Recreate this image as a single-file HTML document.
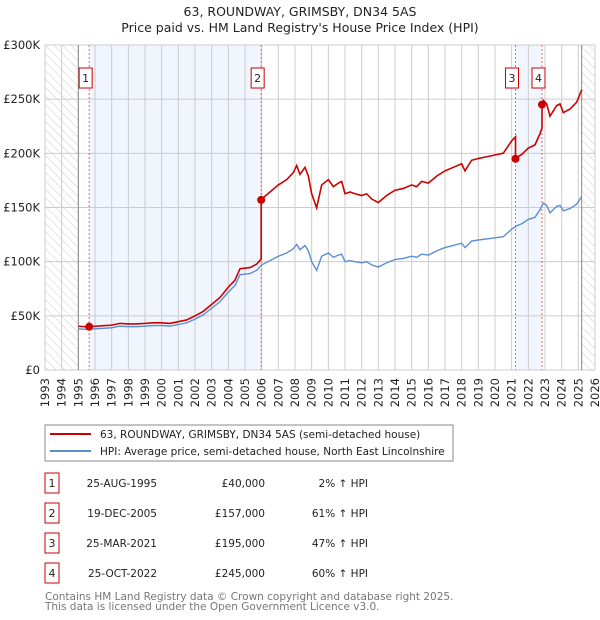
<!DOCTYPE html>
<html><head><meta charset="utf-8"><style>
body{margin:0;background:#fff;font-family:"DejaVu Sans","Liberation Sans",sans-serif;}
#wrap{position:relative;width:600px;height:620px;overflow:hidden}
</style></head><body><div id="wrap">
<svg id="svg" width="600" height="620" xmlns="http://www.w3.org/2000/svg" style="position:absolute;left:0;top:0;font-family:'DejaVu Sans','Liberation Sans',sans-serif">
<defs><pattern id="hatch" width="6" height="6" patternUnits="userSpaceOnUse" patternTransform="rotate(-45)"><line x1="0" y1="0" x2="0" y2="6" stroke="#ccc" stroke-width="1"/></pattern></defs>
<text x="300" y="16" text-anchor="middle" font-size="12.5" fill="#222">63, ROUNDWAY, GRIMSBY, DN34 5AS</text>
<text x="300" y="32" text-anchor="middle" font-size="12.5" fill="#222">Price paid vs. HM Land Registry's House Price Index (HPI)</text>
<g id="plot"></g>
<rect x="45" y="425" width="408" height="36" fill="#fff" stroke="#888"/>
<line x1="50" y1="434" x2="91" y2="434" stroke="#cc0000" stroke-width="2"/>
<text x="100" y="438" font-size="10.5" fill="#222">63, ROUNDWAY, GRIMSBY, DN34 5AS (semi-detached house)</text>
<line x1="50" y1="451" x2="91" y2="451" stroke="#5b8fd4" stroke-width="2"/>
<text x="100" y="455" font-size="10.5" fill="#222">HPI: Average price, semi-detached house, North East Lincolnshire</text>
<g id="table"></g>
<text x="45" y="600" font-size="10.5" fill="#777">Contains HM Land Registry data © Crown copyright and database right 2025.</text>
<text x="45" y="610" font-size="10.5" fill="#777">This data is licensed under the Open Government Licence v3.0.</text>
</svg></div>
<script>
const years=[1993,1994,1995,1996,1997,1998,1999,2000,2001,2002,2003,2004,2005,2006,2007,2008,2009,2010,2011,2012,2013,2014,2015,2016,2017,2018,2019,2020,2021,2022,2023,2024,2025,2026];
const yTicks=[0,50000,100000,150000,200000,250000,300000];
const yTickLabels=["£0","£50K","£100K","£150K","£200K","£250K","£300K"];
const hpiT=[1995.0,1995.5,1996,1996.5,1997,1997.5,1998,1998.5,1999,1999.5,2000,2000.5,2001,2001.5,2002,2002.5,2003,2003.5,2004,2004.4,2004.7,2005.3,2005.7,2006,2006.5,2007,2007.5,2007.9,2008.1,2008.3,2008.6,2008.8,2009.0,2009.3,2009.6,2010,2010.3,2010.6,2010.8,2011.0,2011.3,2011.6,2012,2012.3,2012.6,2013,2013.5,2014,2014.5,2015,2015.3,2015.6,2016,2016.5,2017,2017.5,2018,2018.2,2018.6,2019,2019.5,2020,2020.5,2021,2021.3,2021.6,2022,2022.4,2022.7,2022.9,2023.1,2023.3,2023.7,2023.9,2024.1,2024.5,2024.9,2025.2];
const hpiV=[38000,37500,38000,38500,39000,40500,40000,40000,40500,41000,41000,40500,42000,43500,47000,51000,57000,63000,72000,78000,88000,89000,92000,97000,101000,105000,108000,112000,116000,111000,115000,110000,100000,92000,105000,108000,104000,106000,107000,100000,101000,100000,99000,100000,97000,95000,99000,102000,103000,105000,104000,107000,106000,110000,113000,115000,117000,113000,119000,120000,121000,122000,123000,130000,133000,135000,139000,141000,148000,154000,152000,145000,151000,152000,147000,149000,153000,160000];
const saleT=[1995.65,2005.97,2021.23,2022.82];
const saleP=[40000,157000,195000,245000];
const saleDates=["25-AUG-1995","19-DEC-2005","25-MAR-2021","25-OCT-2022"];
const salePriceLabels=["£40,000","£157,000","£195,000","£245,000"];
const salePct=["2% ↑ HPI","61% ↑ HPI","47% ↑ HPI","60% ↑ HPI"];

const X0=45,X1=595,Y0=370,Y1=45;
const xs=t=>X0+(t-1993)*(X1-X0)/33;
const ys=v=>Y0-v*(Y0-Y1)/300000;
const NS="http://www.w3.org/2000/svg";
function mk(tag,attrs,parent,txt){const e=document.createElementNS(NS,tag);for(const k in attrs)e.setAttribute(k,attrs[k]);if(txt!=null)e.textContent=txt;parent.appendChild(e);return e;}
const g=document.getElementById('plot');
function hpiAt(t){for(let i=0;i<hpiT.length-1;i++){if(t>=hpiT[i]&&t<=hpiT[i+1]){return hpiV[i]+(hpiV[i+1]-hpiV[i])*(t-hpiT[i])/(hpiT[i+1]-hpiT[i]);}}return hpiV[hpiV.length-1];}
let r=mk('rect',{x:X0,y:Y1,width:X1-X0,height:Y0-Y1,fill:'#fff'},g);


let sh=mk('rect',{x:xs(saleT[0]),y:Y1,width:xs(saleT[1])-xs(saleT[0]),height:Y0-Y1,fill:'#eef3fc',opacity:0.8},g);


sh=mk('rect',{x:xs(saleT[2]),y:Y1,width:xs(saleT[3])-xs(saleT[2]),height:Y0-Y1,fill:'#eef3fc',opacity:0.8},g);


let hl=mk('rect',{x:X0,y:Y1,width:xs(1995)-X0,height:Y0-Y1,fill:'url(#hatch)'},g);


let hr=mk('rect',{x:xs(2025.2),y:Y1,width:X1-xs(2025.2),height:Y0-Y1,fill:'url(#hatch)'},g);


years.forEach(y=>{const l=mk('line',{x1:xs(y),x2:xs(y),y1:Y1,y2:Y0,stroke:'#ccc','stroke-width':1},g);


const t=mk('text',{x:0,y:0,transform:`translate(${xs(y)+4},${Y0+8}) rotate(-90)`,'text-anchor':'end','font-size':11.5,fill:'#222'},g,String(y));

});
yTicks.forEach((v,i)=>{const l=mk('line',{x1:X0,x2:X1,y1:ys(v),y2:ys(v),stroke:'#ccc','stroke-width':1},g);


const t=mk('text',{x:40,y:ys(v)+4,'text-anchor':'end','font-size':11.5,fill:'#222'},g,yTickLabels[i]);

});
[1995,2025.2].forEach(t=>{const l=mk('line',{x1:xs(t),x2:xs(t),y1:Y1,y2:Y0,stroke:'#888','stroke-width':1},g);

});
saleT.forEach((t,i)=>{const l=mk('line',{x1:xs(t),x2:xs(t),y1:Y1,y2:Y0,stroke:'#f06060','stroke-width':1,'stroke-dasharray':'2,2'},g);


const b=mk('rect',{x:xs(t)-10,y:68,width:13,height:20,fill:'#fff',stroke:'#cc0000'},g);


const tx=mk('text',{x:xs(t)-3.5,y:82,'text-anchor':'middle','font-size':11,fill:'#222'},g,String(i+1));

});
const hp=mk('polyline',{points:hpiT.map((t,i)=>xs(t)+','+ys(hpiV[i])).join(' '),fill:'none',stroke:'#5b8fd4','stroke-width':1.4},g);


const ratios=saleT.map((t,i)=>saleP[i]/hpiAt(t));
const allT=[...hpiT,...saleT].sort((a,b)=>a-b);
let pts=[];allT.forEach(t=>{let k=-1;for(let i=0;i<saleT.length;i++)if(t>=saleT[i])k=i;
const si=saleT.indexOf(t);
if(si>0){pts.push(xs(t)+','+ys(hpiAt(t)*ratios[si-1]));}
const ratio=k<0?ratios[0]:ratios[k];pts.push(xs(t)+','+ys(hpiAt(t)*ratio));});
const pl=mk('polyline',{points:pts.join(' '),fill:'none',stroke:'#cc0000','stroke-width':1.6},g);


saleT.forEach((t,i)=>{const c=mk('circle',{cx:xs(t),cy:ys(saleP[i]),r:4,fill:'#cc0000'},g);

});
const tb=document.getElementById('table');
saleT.forEach((t,i)=>{const cy=483+i*30;
const b=mk('rect',{x:45,y:cy-10,width:14,height:20,fill:'#fff',stroke:'#cc0000'},tb);


let e=mk('text',{x:52,y:cy+4,'text-anchor':'middle','font-size':11,fill:'#222'},tb,String(i+1));


e=mk('text',{x:157,y:cy+4,'text-anchor':'end','font-size':10.5,fill:'#222'},tb,saleDates[i]);


e=mk('text',{x:265,y:cy+4,'text-anchor':'end','font-size':10.5,fill:'#222'},tb,salePriceLabels[i]);


e=mk('text',{x:368,y:cy+4,'text-anchor':'end','font-size':10.5,fill:'#222'},tb,salePct[i]);

});
</script></body></html>
